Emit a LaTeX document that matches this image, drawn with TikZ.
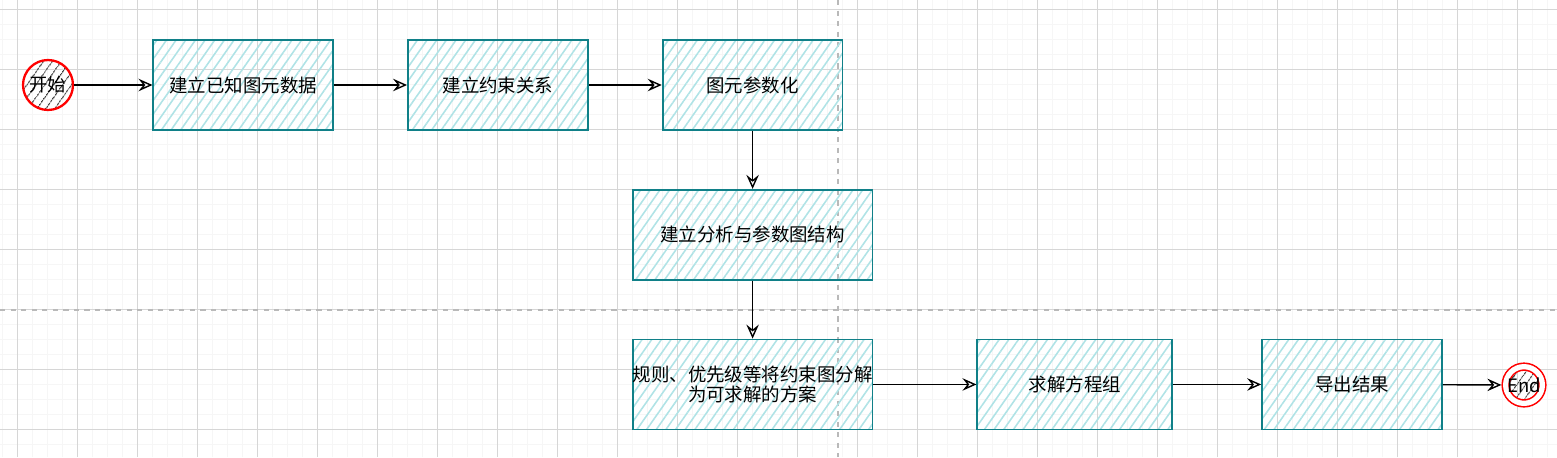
\documentclass[tikz,border=0pt]{standalone}
\usepackage{fontspec}
\newfontfamily\cjk{Noto Sans CJK SC}
\usepackage{xcolor}
\usepackage{tikz}
\usetikzlibrary{arrows.meta,positioning,patterns.meta}
\definecolor{boxline}{RGB}{16,128,136}
\definecolor{boxhatch}{RGB}{176,227,230}
\definecolor{gridmajor}{RGB}{214,214,214}
\definecolor{gridminor}{RGB}{246,246,246}

\begin{document}
\begin{tikzpicture}[
  x=0.02cm, y=-0.02cm,
  every node/.style={font=\cjk\fontsize{10.5}{11}\selectfont, text=black},
  proc/.style={rectangle,draw=boxline,line width=1pt,inner sep=0pt,align=center,
    minimum width=3.6cm,minimum height=1.8cm,
    pattern={Lines[angle=55,distance=4.5pt,line width=0.9pt]},pattern color=boxhatch},
  term/.style={circle,draw=red,line width=1.3pt,inner sep=0pt,minimum size=1cm,
    pattern={Lines[angle=55,distance=4pt,line width=0.6pt]},pattern color=black!80},
  flow/.style={draw=black,line width=0.8pt,-{Stealth[open,length=2.8mm,width=2.5mm,inset=1mm]}},
]
\useasboundingbox (0,0) rectangle (1557,457);
% grid
\foreach \x in {2.5,17.5,...,1557} \draw[gridminor,line width=0.5pt] (\x,0) -- (\x,457);
\foreach \y in {9.5,24.5,...,457} \draw[gridminor,line width=0.5pt] (0,\y) -- (1557,\y);
\foreach \x in {17.5,77.5,...,1557} \draw[gridmajor,line width=0.6pt] (\x,0) -- (\x,457);
\foreach \y in {9.5,69.5,...,457} \draw[gridmajor,line width=0.6pt] (0,\y) -- (1557,\y);
\draw[gray!55,line width=0.6pt,dash pattern=on 3pt off 3pt] (838,0) -- (838,457);
\draw[gray!55,line width=0.6pt,dash pattern=on 3pt off 3pt] (0,310) -- (1557,310);

\node[term] (start) at (48,85) {开始};
\node[proc,right=1.58cm of start] (known) {建立已知图元数据};
\node[proc,right=1.46cm of known] (rel) {建立约束关系};
\node[proc,right=1.46cm of rel] (param) {图元参数化};
\node[proc,minimum width=4.8cm,below=1.16cm of param] (graph) {建立分析与参数图结构};
\node[proc,minimum width=4.8cm,below=1.16cm of graph] (decomp) {规则、优先级等将约束图分解\\为可求解的方案};
\node[proc,minimum width=3.9cm,right=2.06cm of decomp] (solve) {求解方程组};
\node[proc,right=1.76cm of solve] (export) {导出结果};
\node[term,minimum size=0.72cm,line width=0.9pt,double=white,double distance=3pt] (end) at (1524,385) {End};

\draw[flow] (start) -- (known);
\draw[flow] (known) -- (rel);
\draw[flow] (rel) -- (param);
\draw[flow] (param) -- (graph);
\draw[flow] (graph) -- (decomp);
\draw[flow] (decomp) -- (solve);
\draw[flow] (solve) -- (export);
\draw[flow,shorten >=2pt] (export) -- (end);
\end{tikzpicture}
\end{document}
